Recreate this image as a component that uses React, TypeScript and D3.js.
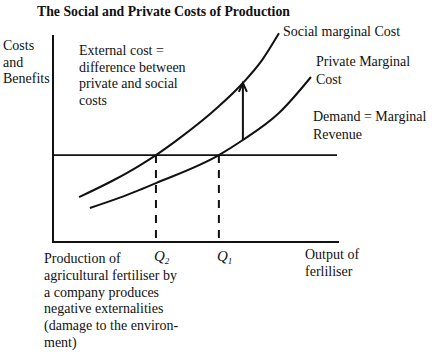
import React from "react";
import * as d3 from "d3";

const socialX = [9.1, 21.3, 30.1, 36.0, 43.0, 58.0, 66.4, 73.1, 79.0];
const socialY = [21.8, 30.1, 37.0, 42.2, 49.1, 65.9, 77.2, 88.3, 101.3];
const privateX = [12.9, 23.1, 30.1, 36.0, 58.0, 66.4, 79.0, 90.2];
const privateY = [16.5, 21.4, 25.2, 28.6, 42.2, 49.5, 62.6, 80.1];
const demandLevel = 42.2;
const demandEnd = 99.3;
const q2 = 36.0;
const q1 = 58.0;
const arrowX = 66.4;
const arrowFrom = 49.5;
const arrowTo = 77.2;

const titleText = "The Social and Private Costs of Production";
const yAxisLabel = ["Costs", "and", "Benefits"];
const externalLabel = ["External cost =", "difference between", "private and social", "costs"];
const socialLabel = ["Social marginal Cost"];
const privateLabel = ["Private Marginal", "Cost"];
const demandLabel = ["Demand = Marginal", "Revenue"];
const xAxisLabel = ["Output of", "ferliliser"];
const noteLabel = [
  "Production of",
  "agricultural fertiliser by",
  "a company produces",
  "negative externalities",
  "(damage to the environ-",
  "ment)",
];

const W = 432;
const H = 358;

export default function App() {
  const x = d3.scaleLinear().domain([0, 100]).range([53, 339]);
  const y = d3.scaleLinear().domain([0, 100]).range([242, 36]);
  const line = d3
    .line<[number, number]>()
    .x((d) => x(d[0]))
    .y((d) => y(d[1]))
    .curve(d3.curveMonotoneX);
  const social = socialX.map((v, i) => [v, socialY[i]] as [number, number]);
  const priv = privateX.map((v, i) => [v, privateY[i]] as [number, number]);
  const font = "'Liberation Serif', 'Times New Roman', serif";

  const lines = (arr: string[], x0: number, y0: number, dy: number) =>
    arr.map((t, i) => (
      <text key={i} x={x0} y={y0 + i * dy}>
        {t}
      </text>
    ));

  return (
    <svg
      width={W}
      height={H}
      style={{ position: "absolute", left: 0, top: 0, background: "#fff" }}
      fontFamily={font}
      fontSize={14}
      fill="#111"
    >
      <defs>
        <marker
          id="ah"
          viewBox="0 0 10 10"
          refX="5"
          refY="1"
          markerWidth="5"
          markerHeight="5"
          orient="auto-start-reverse"
          markerUnits="userSpaceOnUse"
        >
          <path d="M0,0 L10,5 L0,10" fill="none" stroke="#111" strokeWidth="2" />
        </marker>
      </defs>
      <rect width={W} height={H} fill="#fff" />
      <text x={37} y={16} fontWeight="bold" fontSize={14} textLength={253} lengthAdjust="spacingAndGlyphs">
        {titleText}
      </text>
      {lines(yAxisLabel, 3, 50, 16.5)}
      {lines(externalLabel, 79, 55, 16.7)}
      {lines(socialLabel, 283, 36, 17)}
      {lines(privateLabel, 316, 66, 18)}
      {lines(demandLabel, 313, 121, 18)}
      {lines(xAxisLabel, 305, 259, 17)}
      {lines(noteLabel, 44, 263, 16.8)}

      {/* axes */}
      <line x1={x(0)} x2={x(0)} y1={y(100) - 1} y2={y(0) + 1} stroke="#111" strokeWidth={2} />
      <line x1={x(0) - 1} x2={x(100)} y1={y(0)} y2={y(0)} stroke="#111" strokeWidth={2} />

      {/* demand */}
      <line x1={x(0)} x2={x(demandEnd)} y1={y(demandLevel)} y2={y(demandLevel)} stroke="#111" strokeWidth={1.8} />

      {/* dashed drop lines */}
      {[q2, q1].map((q, i) => (
        <line
          key={i}
          x1={x(q)}
          x2={x(q)}
          y1={y(demandLevel)}
          y2={y(0)}
          stroke="#111"
          strokeWidth={2}
          strokeDasharray="8,7"
        />
      ))}

      <path d={line(social) || ""} fill="none" stroke="#111" strokeWidth={2} />
      <path d={line(priv) || ""} fill="none" stroke="#111" strokeWidth={2} />

      {/* arrow */}
      <line
        x1={x(arrowX)}
        x2={x(arrowX)}
        y1={y(arrowFrom)}
        y2={y(arrowTo)}
        stroke="#111"
        strokeWidth={2}
      />
      <path
        d={`M${x(arrowX) - 4},${y(arrowTo) + 9} L${x(arrowX)},${y(arrowTo)} L${x(arrowX) + 4},${y(arrowTo) + 9}`}
        fill="none"
        stroke="#111"
        strokeWidth={2}
      />

      {/* Q labels */}
      {[
        { q: q2, s: "2" },
        { q: q1, s: "1" },
      ].map((d, i) => (
        <text key={i} x={x(d.q) - 2} y={261} fontStyle="italic" fontSize={15}>
          Q<tspan fontSize={9} dy={3}>{d.s}</tspan>
        </text>
      ))}
    </svg>
  );
}
